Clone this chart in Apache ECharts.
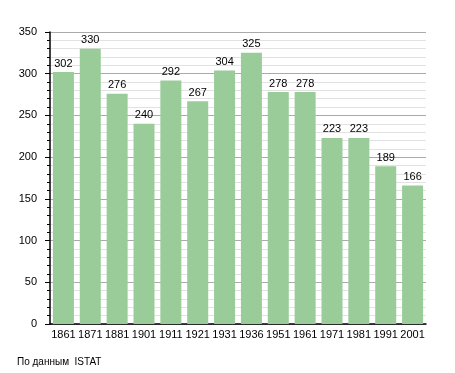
<!DOCTYPE html>
<html><head><meta charset="utf-8">
<script src="https://cdn.jsdelivr.net/npm/echarts@6/dist/echarts.min.js"></script>
<style>html,body{margin:0;padding:0;background:#fff}#c{width:455px;height:373px}</style>
</head><body><div id="c"></div>
<script>
const years = ['1861','1871','1881','1901','1911','1921','1931','1936','1951','1961','1971','1981','1991','2001'];
const population = [302,330,276,240,292,267,304,325,278,278,223,223,189,166];
const yTicks = [0,50,100,150,200,250,300,350];
const footer = 'По данным  ISTAT';

const chart = echarts.init(document.getElementById('c'), null, {renderer:'canvas'});
const font = 'Liberation Sans, Arial, sans-serif';
chart.setOption({
  animation:false,
  grid:{left:50,right:29,top:32,bottom:49,containLabel:false},
  xAxis:{type:'category',data:years,
    axisLine:{lineStyle:{color:'#000',width:1.5}},
    axisTick:{show:false},
    axisLabel:{color:'#000',fontSize:11,fontFamily:font,margin:5,interval:0}},
  yAxis:{type:'value',min:yTicks[0],max:yTicks[yTicks.length-1],interval:50,
    axisLine:{show:true,lineStyle:{color:'#000',width:1.5}},
    axisTick:{show:true,length:5,lineStyle:{color:'#000'}},
    minorTick:{show:true,splitNumber:5,length:3,lineStyle:{color:'#000'}},
    axisLabel:{color:'#000',fontSize:11,fontFamily:font,margin:13},
    splitLine:{lineStyle:{color:'#aaaaaa',width:1}},
    minorSplitLine:{show:true,lineStyle:{color:'#e2e2e2',width:1}}},
  series:[{type:'bar',data:population,barWidth:21,
    itemStyle:{color:'#99cc99'},
    label:{show:true,position:'top',color:'#000',fontSize:11,fontFamily:font,distance:3}}],
  graphic:[{type:'text',left:17,top:357,style:{text:footer,fill:'#000',font:'10px '+font}}]
});
</script></body></html>
